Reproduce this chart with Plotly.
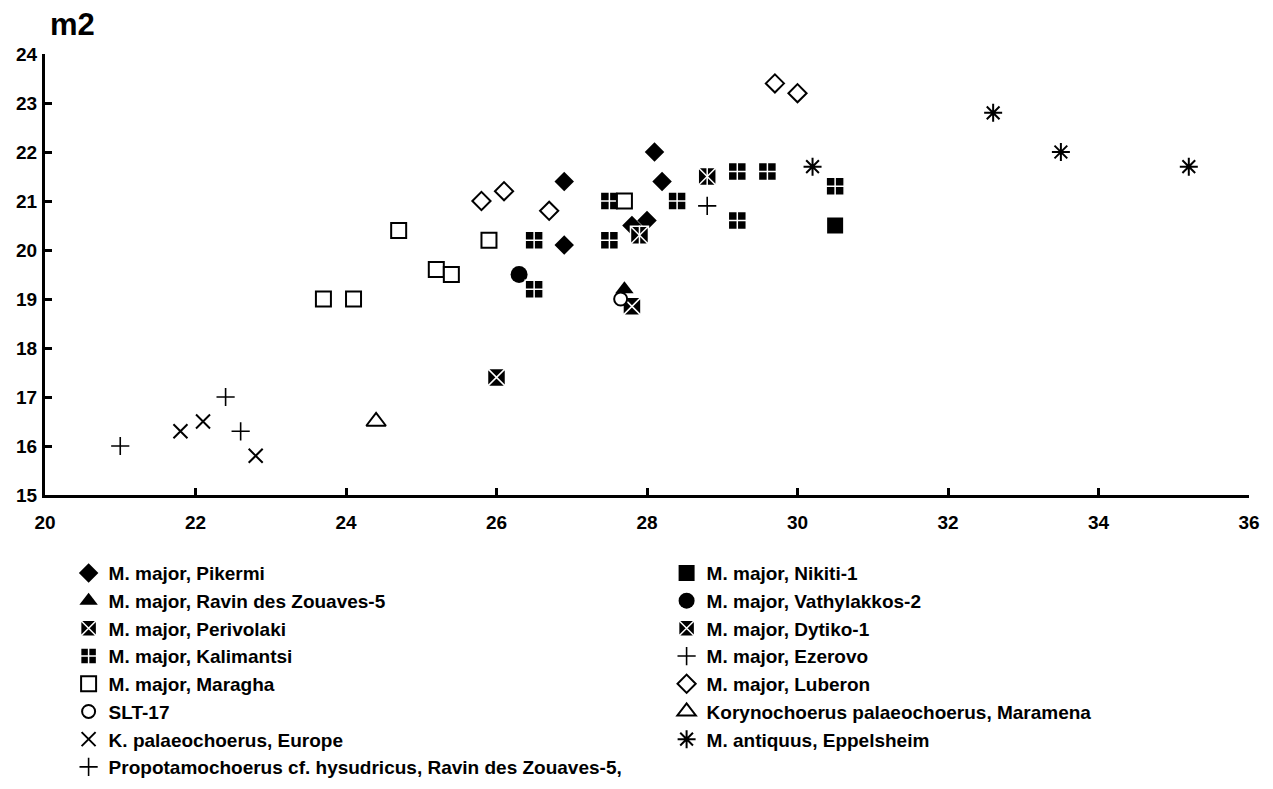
import plotly.graph_objects as go

# ---- data (x, y) per group ----
pikermi_x = [26.9, 26.9, 28.1, 28.2, 27.8, 28.0]
pikermi_y = [21.4, 20.1, 22.0, 21.4, 20.5, 20.6]

nikiti_x = [30.5]
nikiti_y = [20.5]

ravin_x = [27.7, 27.8]
ravin_y = [19.2, 18.75]

vathy_x = [26.3]
vathy_y = [19.5]

perivolaki_x = [26.0, 27.8]
perivolaki_y = [17.4, 18.85]

dytiko_x = [28.8, 27.9]
dytiko_y = [21.5, 20.3]

kalimantsi_x = [26.5, 26.5, 27.5, 27.5, 28.4, 29.2, 29.6, 29.2, 30.5]
kalimantsi_y = [20.2, 19.2, 21.0, 20.2, 21.0, 21.6, 21.6, 20.6, 21.3]

ezerovo_x = [28.8]
ezerovo_y = [20.9]

maragha_x = [24.7, 25.9, 25.2, 25.4, 23.7, 24.1, 27.7]
maragha_y = [20.4, 20.2, 19.6, 19.5, 19.0, 19.0, 21.0]

luberon_x = [25.8, 26.1, 26.7, 29.7, 30.0]
luberon_y = [21.0, 21.2, 20.8, 23.4, 23.2]

slt_x = [27.65]
slt_y = [19.0]

maramena_x = [24.4]
maramena_y = [16.5]

kpal_x = [21.8, 22.1, 22.8]
kpal_y = [16.3, 16.5, 15.8]

eppel_x = [30.2, 32.6, 33.5, 35.2]
eppel_y = [21.7, 22.8, 22.0, 21.7]

propo_x = [21.0, 22.4, 22.6]
propo_y = [16.0, 17.0, 16.3]

x_ticks = [20, 22, 24, 26, 28, 30, 32, 34, 36]
y_ticks = [15, 16, 17, 18, 19, 20, 21, 22, 23, 24]

BLACK = "black"
WHITE = "white"
FONT = "Liberation Sans, Arial, sans-serif"

fig = go.Figure()


def add(name, xs, ys, symbol, size, color, lcolor, lwidth, showlegend=True):
    fig.add_trace(go.Scatter(
        x=xs, y=ys, mode="markers", name=f"<b>{name}</b>", showlegend=showlegend,
        marker=dict(symbol=symbol, size=size, color=color,
                    line=dict(color=lcolor, width=lwidth)),
        hoverinfo="skip"))


add("M. major, Pikermi", pikermi_x, pikermi_y, "diamond", 15, BLACK, BLACK, 0)
add("M. major, Nikiti-1", nikiti_x, nikiti_y, "square", 16, BLACK, BLACK, 0)
add("M. major, Ravin des Zouaves-5", ravin_x, ravin_y, "triangle-up", 16, BLACK, BLACK, 0)
add("M. major, Vathylakkos-2", vathy_x, vathy_y, "circle", 17, BLACK, BLACK, 0)
add("M. major, Perivolaki", perivolaki_x, perivolaki_y, "square-x", 18, BLACK, WHITE, 1.5)
add("M. major, Dytiko-1", dytiko_x, dytiko_y, "square-x", 18, BLACK, WHITE, 1.5)
add("", dytiko_x, dytiko_y, "line-ns", 14, BLACK, WHITE, 1.5, showlegend=False)
add("M. major, Kalimantsi", kalimantsi_x, kalimantsi_y, "square-cross", 18, BLACK, WHITE, 1.5)
add("M. major, Ezerovo", ezerovo_x, ezerovo_y, "cross-thin-open", 13, BLACK, BLACK, 1.6)
add("M. major, Maragha", maragha_x, maragha_y, "square", 15, WHITE, BLACK, 2)
add("M. major, Luberon", luberon_x, luberon_y, "diamond", 14, WHITE, BLACK, 2)
add("SLT-17", slt_x, slt_y, "circle", 13, WHITE, BLACK, 2)
add("Korynochoerus palaeochoerus, Maramena", maramena_x, maramena_y, "triangle-up", 17, WHITE, BLACK, 2)
add("K. palaeochoerus, Europe", kpal_x, kpal_y, "x-thin-open", 14, BLACK, BLACK, 2)
add("M. antiquus, Eppelsheim", eppel_x, eppel_y, "asterisk-open", 15, BLACK, BLACK, 2)
add("Propotamochoerus cf. hysudricus, Ravin des Zouaves-5,", propo_x, propo_y,
    "cross-thin-open", 13, BLACK, BLACK, 1.6)

axis_font = dict(family=FONT, size=19, color=BLACK)

fig.update_layout(
    width=1273, height=789,
    paper_bgcolor=WHITE, plot_bgcolor=WHITE,
    margin=dict(l=45, r=24, t=54, b=294, autoexpand=False),
    font=dict(family=FONT, color=BLACK),
    xaxis=dict(range=[20, 36], tickvals=x_ticks, ticktext=[f"<b>{v}</b>" for v in x_ticks],
               showgrid=False, zeroline=False, showline=True, linecolor=BLACK, linewidth=3,
               ticks="inside", ticklen=7, tickwidth=2.5, tickcolor=BLACK,
               tickfont=axis_font, ticklabelstandoff=8),
    yaxis=dict(range=[15, 24], tickvals=y_ticks, ticktext=[f"<b>{v}</b>" for v in y_ticks],
               showgrid=False, zeroline=False, showline=True, linecolor=BLACK, linewidth=3,
               ticks="inside", ticklen=7, tickwidth=2.5, tickcolor=BLACK,
               tickfont=axis_font, ticklabelstandoff=1),
    legend=dict(orientation="h", x=0.0196, y=-0.134, xanchor="left", yanchor="top",
                entrywidth=553, entrywidthmode="pixels", itemwidth=30,
                font=dict(family=FONT, size=19, color=BLACK),
                bgcolor="rgba(0,0,0,0)", itemclick=False, itemdoubleclick=False),
    annotations=[dict(text="<b>m2</b>", xref="paper", yref="paper", x=0.0025, y=1.068,
                      xanchor="left", yanchor="middle", showarrow=False,
                      font=dict(family=FONT, size=31, color=BLACK))],
    showlegend=True,
)

fig.write_html("out.html", config={"displayModeBar": False},
               post_script="document.body.style.margin='0';")
